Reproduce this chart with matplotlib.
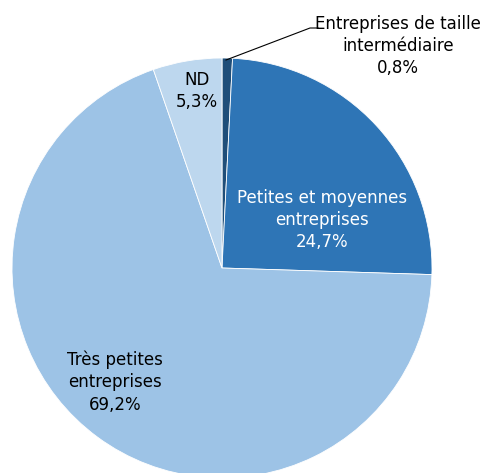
import matplotlib.pyplot as plt

# data
labels = ["Entreprises de taille\nintermédiaire", "Petites et moyennes\nentreprises",
          "Très petites\nentreprises", "ND"]
values = [0.8, 24.7, 69.2, 5.3]
colors = ["#1F4E79", "#2E75B6", "#9DC3E6", "#BDD7EE"]

W, H = 488, 473
fig = plt.figure(figsize=(W / 100, H / 100), dpi=100)
# pie centre at (222, 268) px, radius 210 px
cx, cy, r = 222, 268, 210
ax = fig.add_axes([(cx - r) / W, (H - cy - r) / H, 2 * r / W, 2 * r / H])

ax.pie(values, colors=colors, startangle=90, counterclock=False,
       wedgeprops=dict(edgecolor="white", linewidth=0.6))
ax.set_xlim(-1, 1)
ax.set_ylim(-1, 1)
ax.set_aspect("equal")
ax.axis("off")

def pt(px, py):
    return (px - cx) / r, (cy - py) / r

def pct(v):
    return f"{v:.1f}%".replace(".", ",")

fs = 12
tx = dict(ha="center", va="center", fontsize=fs, linespacing=1.32, family="DejaVu Sans")
ax.text(*pt(322, 220), f"{labels[1]}\n{pct(values[1])}", color="white", **tx)
ax.text(*pt(115, 382), f"{labels[2]}\n{pct(values[2])}", color="black", **tx)
ax.text(*pt(197, 91), f"{labels[3]}\n{pct(values[3])}", color="black", **tx)
ax.text(*pt(398, 46), f"{labels[0]}\n{pct(values[0])}", color="black", clip_on=False, **tx)

# leader line for the small slice
x0, y0 = pt(226, 60)
x1, y1 = pt(310, 28)
x2, y2 = pt(318, 28)
ax.plot([x0, x1, x2], [y0, y1, y2], color="black", linewidth=0.8, clip_on=False)

fig.savefig("out.png", dpi=100)
